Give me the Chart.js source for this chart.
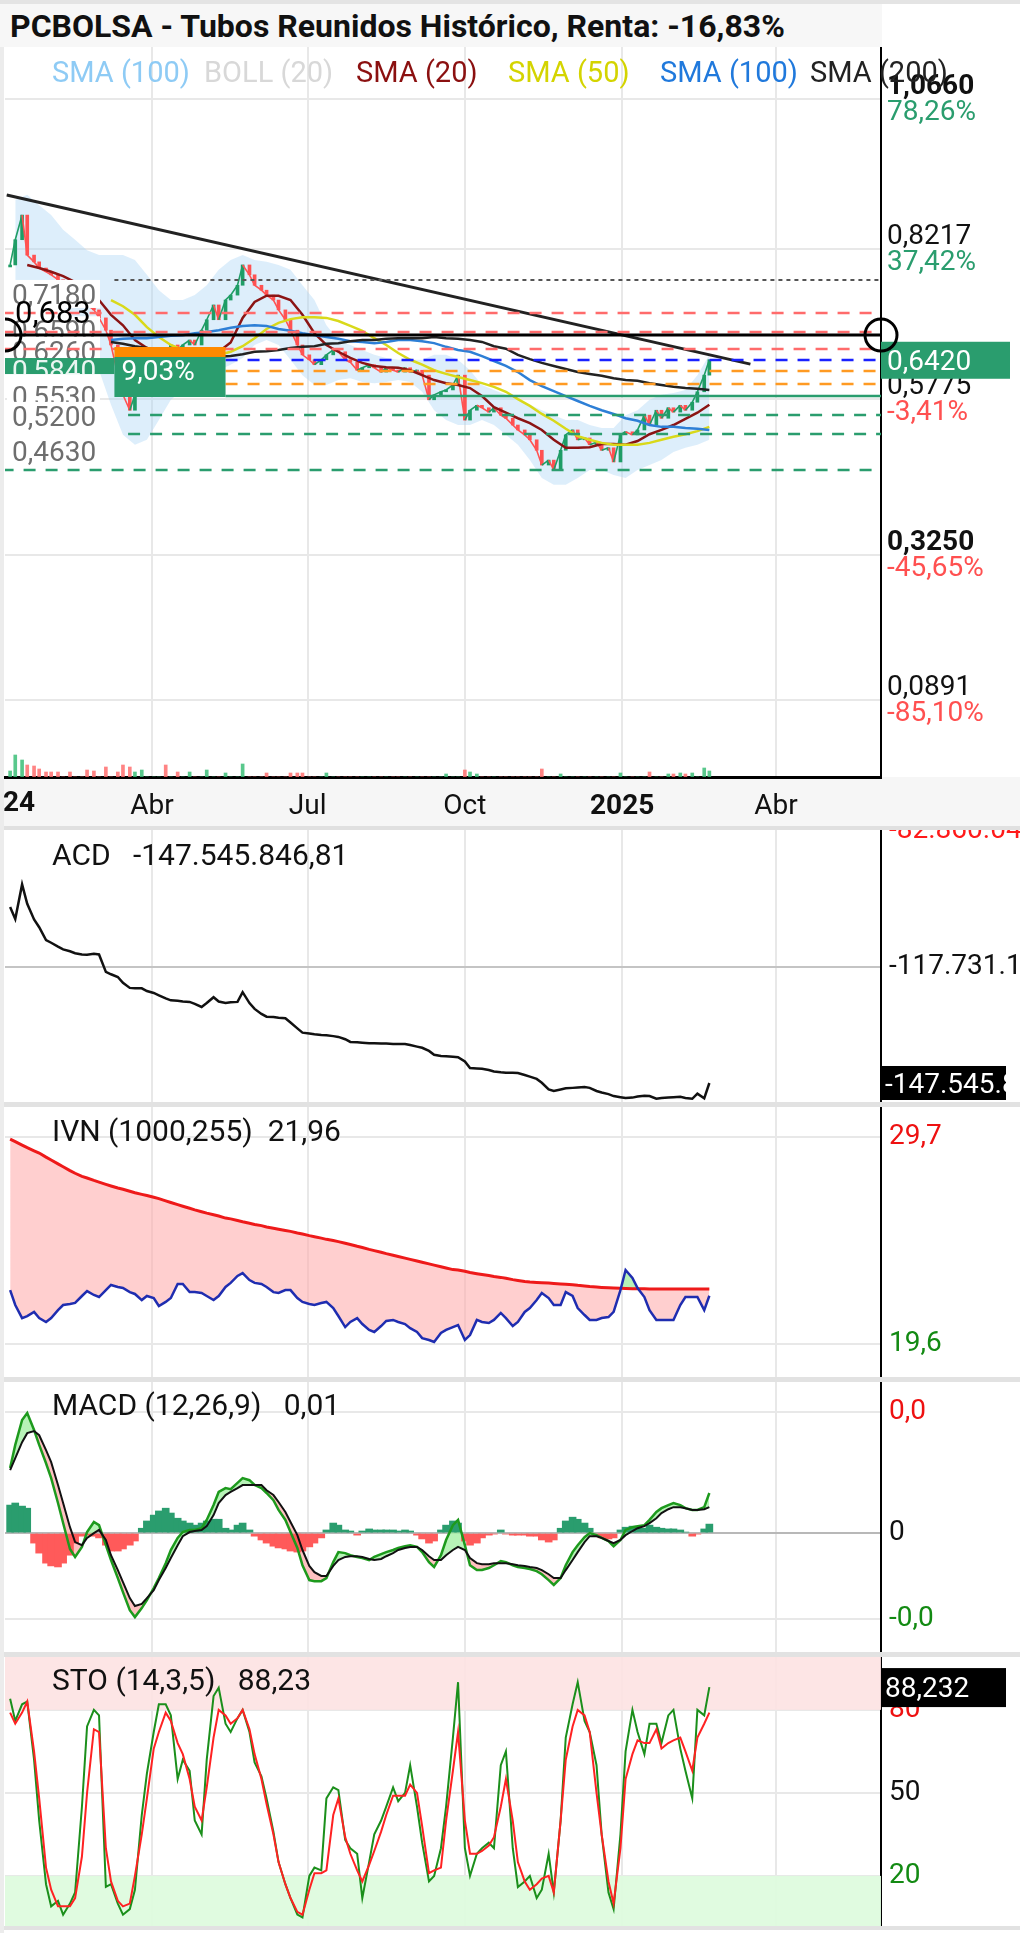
<!DOCTYPE html>
<html><head><meta charset="utf-8">
<script src="https://cdn.jsdelivr.net/npm/chart.js@4.4.1/dist/chart.umd.min.js"></script>
<style>
html,body{margin:0;padding:0;background:#fff;}
body{width:1020px;height:1933px;position:relative;overflow:hidden;font-family:Roboto,sans-serif;}
.blk{position:absolute;}
canvas{position:absolute;left:0;z-index:1;}
.t{position:absolute;font-family:Roboto;font-size:28px;line-height:28px;white-space:pre;z-index:2;}
.p{font-size:30px;line-height:30px;}
</style></head><body>
<div class="blk" style="left:0;top:0;width:1020px;height:4px;background:#e4e4e4"></div>
<div class="blk" style="left:0;top:4px;width:882px;height:43px;background:#f7f7f7"></div>
<div class="blk" style="left:0;top:47px;width:4px;height:1886px;background:#ececec"></div>
<div class="blk" style="left:4px;top:777px;width:1016px;height:49px;background:#f6f6f6"></div>
<div class="blk" style="left:4px;top:826px;width:1016px;height:4px;background:#e0e0e0"></div>
<div class="blk" style="left:4px;top:1102px;width:1016px;height:5px;background:#e2e2e2"></div>
<div class="blk" style="left:4px;top:1377px;width:1016px;height:5px;background:#e2e2e2"></div>
<div class="blk" style="left:4px;top:1652px;width:1016px;height:5px;background:#e2e2e2"></div>
<div class="blk" style="left:4px;top:1926px;width:1016px;height:4px;background:#e2e2e2"></div>

<canvas id="cMain" width="1020" height="779" style="top:47px"></canvas>
<canvas id="cAcd" width="1020" height="272" style="top:830px"></canvas>
<canvas id="cIvn" width="1020" height="270" style="top:1107px"></canvas>
<canvas id="cMacd" width="1020" height="270" style="top:1382px"></canvas>
<canvas id="cSto" width="1020" height="269" style="top:1657px"></canvas>

<div class="t" style="left:10px;top:10px;font-size:32px;line-height:32px;font-weight:bold;color:#111">PCBOLSA - Tubos Reunidos Histórico, Renta: -16,83%</div>
<div class="t" style="left:52px;top:58px;font-size:29px;color:#8ecbf5">SMA (100)</div>
<div class="t" style="left:204px;top:58px;font-size:29px;color:#d8d8d8">BOLL (20)</div>
<div class="t" style="left:356px;top:58px;font-size:29px;color:#8b1010">SMA (20)</div>
<div class="t" style="left:508px;top:58px;font-size:29px;color:#d4d400">SMA (50)</div>
<div class="t" style="left:660px;top:58px;font-size:29px;color:#2079dc">SMA (100)</div>
<div class="t" style="left:810px;top:58px;font-size:29px;color:#222">SMA (200)</div>
<div class="t p" style="left:52px;top:840px;color:#111">ACD   -147.545.846,81</div>
<div class="t p" style="left:52px;top:1116px;color:#111">IVN (1000,255)  21,96</div>
<div class="t p" style="left:52px;top:1390px;color:#111">MACD (12,26,9)   0,01</div>
<div class="t p" style="left:52px;top:1665px;color:#111">STO (14,3,5)   88,23</div>

<script>
// ---------------- DATA ----------------
const dates = ['2024-01-09','2024-01-12','2024-01-16','2024-01-19','2024-01-23','2024-01-26','2024-01-30','2024-02-02','2024-02-06','2024-02-09',
'2024-02-13','2024-02-16','2024-02-20','2024-02-23','2024-02-27','2024-03-01','2024-03-05','2024-03-08','2024-03-12','2024-03-15',
'2024-03-19','2024-03-22','2024-03-26','2024-03-29','2024-04-02','2024-04-05','2024-04-09','2024-04-12','2024-04-16','2024-04-19',
'2024-04-23','2024-04-26','2024-04-30','2024-05-03','2024-05-07','2024-05-10','2024-05-14','2024-05-17','2024-05-21','2024-05-24',
'2024-05-28','2024-05-31','2024-06-04','2024-06-07','2024-06-11','2024-06-14','2024-06-18','2024-06-21','2024-06-25','2024-06-28',
'2024-07-02','2024-07-05','2024-07-09','2024-07-12','2024-07-16','2024-07-19','2024-07-23','2024-07-26','2024-07-30','2024-08-02',
'2024-08-06','2024-08-09','2024-08-13','2024-08-16','2024-08-20','2024-08-23','2024-08-27','2024-08-30','2024-09-03','2024-09-06',
'2024-09-10','2024-09-13','2024-09-17','2024-09-20','2024-09-24','2024-09-27','2024-10-01','2024-10-04','2024-10-08','2024-10-11',
'2024-10-15','2024-10-18','2024-10-22','2024-10-25','2024-10-29','2024-11-01','2024-11-05','2024-11-08','2024-11-12','2024-11-15',
'2024-11-19','2024-11-22','2024-11-26','2024-11-29','2024-12-03','2024-12-06','2024-12-10','2024-12-13','2024-12-17','2024-12-20',
'2024-12-24','2024-12-27','2024-12-31','2025-01-03','2025-01-07','2025-01-10','2025-01-14','2025-01-17','2025-01-21','2025-01-24',
'2025-01-28','2025-01-31','2025-02-04','2025-02-07','2025-02-11','2025-02-14','2025-02-18','2025-02-21'];

const closes = [0.796,0.837,0.877,0.812,0.801,0.791,0.785,0.780,0.772,0.763,
0.755,0.747,0.739,0.731,0.723,0.710,0.690,0.666,0.617,0.585,
0.560,0.585,0.609,0.634,0.650,0.658,0.650,0.666,0.658,0.666,
0.674,0.666,0.690,0.707,0.731,0.707,0.739,0.747,0.763,0.796,
0.780,0.763,0.755,0.747,0.739,0.723,0.707,0.690,0.666,0.650,
0.642,0.634,0.642,0.650,0.658,0.655,0.642,0.638,0.625,0.629,
0.634,0.629,0.622,0.629,0.625,0.622,0.629,0.622,0.625,0.617,
0.577,0.585,0.590,0.593,0.601,0.617,0.544,0.560,0.568,0.564,
0.557,0.564,0.552,0.547,0.536,0.528,0.520,0.512,0.495,0.471,
0.479,0.463,0.495,0.520,0.528,0.512,0.515,0.504,0.508,0.495,
0.499,0.476,0.520,0.525,0.520,0.528,0.552,0.536,0.560,0.547,
0.564,0.557,0.568,0.560,0.573,0.590,0.617,0.642];

const volumes = [270,990,765,540,495,360,225,225,225,0,
225,0,0,315,270,0,450,0,225,540,
450,225,315,0,0,0,540,0,225,0,
225,0,0,315,0,0,180,0,0,585,
0,0,0,180,0,0,0,180,180,180,
0,0,0,180,0,0,0,0,0,0,
0,0,0,0,0,0,0,0,0,0,
0,0,0,135,0,0,315,225,135,0,
0,0,0,0,0,0,0,0,0,360,
0,0,135,0,0,0,0,0,0,0,
0,0,180,0,0,0,0,225,0,0,
135,135,180,135,180,0,405,270];

// weekly indicator values (one per Friday of the dates above)
const sma20 = [null,0.796,0.791,0.785,0.778,0.768,0.755,0.739,0.715,0.698,
0.674,0.661,0.655,0.655,0.658,0.660,0.655,0.655,0.670,0.710,
0.736,0.746,0.746,0.739,0.715,0.685,0.666,0.655,0.645,0.637,
0.632,0.630,0.629,0.625,0.617,0.609,0.604,0.601,0.596,0.583,
0.565,0.556,0.547,0.539,0.528,0.512,0.499,0.499,0.500,0.505,
0.505,0.504,0.510,0.521,0.528,0.536,0.546,0.556,0.569];
const sma50 = [null,null,null,null,null,null,null,null,0.739,0.729,
0.715,0.695,0.679,0.666,0.658,0.651,0.648,0.650,0.655,0.664,
0.677,0.692,0.702,0.708,0.711,0.711,0.710,0.705,0.697,0.689,
0.677,0.666,0.653,0.642,0.634,0.625,0.619,0.614,0.609,0.604,
0.598,0.590,0.578,0.567,0.554,0.543,0.530,0.518,0.512,0.507,
0.504,0.504,0.504,0.507,0.512,0.517,0.521,0.526,0.533];
const sma100 = [null,null,null,null,null,null,null,null,0.674,0.676,
0.677,0.677,0.679,0.681,0.682,0.685,0.687,0.690,0.694,0.697,
0.698,0.697,0.692,0.689,0.685,0.682,0.679,0.676,0.672,0.671,
0.669,0.671,0.674,0.674,0.672,0.669,0.663,0.658,0.655,0.648,
0.640,0.632,0.622,0.609,0.599,0.591,0.583,0.575,0.567,0.560,
0.554,0.547,0.543,0.536,0.533,0.533,0.531,0.530,0.528];
const sma200 = [null,null,null,null,null,null,null,null,0.671,0.668,
0.664,0.661,0.658,0.655,0.651,0.650,0.648,0.647,0.648,0.651,
0.655,0.656,0.658,0.661,0.663,0.664,0.668,0.669,0.672,0.674,
0.674,0.676,0.677,0.677,0.677,0.679,0.677,0.676,0.674,0.671,
0.664,0.660,0.650,0.643,0.637,0.632,0.627,0.622,0.619,0.616,
0.612,0.609,0.608,0.604,0.601,0.598,0.596,0.595,0.593];
const bollUpper = [0.902,0.910,0.893,0.877,0.853,0.837,0.820,0.812,0.812,0.812,
0.804,0.780,0.755,0.739,0.739,0.747,0.763,0.788,0.804,0.812,
0.804,0.801,0.796,0.788,0.763,0.739,0.698,0.674,0.666,0.658,
0.650,0.645,0.642,0.642,0.642,0.650,0.650,0.642,0.625,0.601,
0.593,0.585,0.577,0.569,0.560,0.552,0.544,0.544,0.536,0.531,
0.531,0.552,0.560,0.577,0.585,0.588,0.593,0.617,0.650];
const bollLower = [0.772,0.763,0.755,0.739,0.731,0.707,0.674,0.625,0.569,0.520,
0.504,0.512,0.544,0.577,0.593,0.601,0.617,0.625,0.634,0.645,
0.666,0.674,0.666,0.642,0.617,0.601,0.601,0.609,0.612,0.606,
0.604,0.606,0.609,0.606,0.590,0.560,0.544,0.536,0.536,0.544,
0.536,0.520,0.504,0.479,0.450,0.439,0.439,0.450,0.463,0.463,
0.455,0.450,0.463,0.471,0.479,0.492,0.499,0.504,0.512];

const trendDates = ['2024-01-07','2025-03-17'];
const trendPrices = [0.9096,0.6349];

const acd = [-102.3,-105.4,-96.5,-101.5,-105.5,-107.5,-110.8,-111.5,-112.5,-113.2,
-113.7,-114.2,-114.5,-114.6,-114.3,-114.5,-119.0,-119.6,-120.3,-121.8,
-123.1,-123.2,-123.2,-123.9,-124.4,-125.0,-125.8,-126.3,-126.4,-126.6,
-126.7,-127.2,-128.0,-127.0,-125.5,-126.6,-127.0,-126.8,-126.7,-124.2,
-127.0,-128.5,-129.8,-130.5,-130.6,-130.8,-130.9,-132.0,-133.5,-134.6,
-134.8,-135.0,-135.2,-135.3,-135.5,-135.7,-136.3,-137.0,-137.1,-137.2,
-137.3,-137.3,-137.4,-137.4,-137.5,-137.5,-137.5,-137.8,-138.2,-138.5,
-139.3,-140.3,-140.6,-140.7,-140.8,-140.9,-142.0,-143.7,-143.8,-143.9,
-144.2,-144.6,-144.8,-144.9,-144.9,-145.0,-145.5,-145.9,-146.5,-147.5,
-149.2,-149.6,-149.2,-148.9,-148.8,-148.7,-148.6,-148.8,-149.6,-150.0,
-150.4,-150.9,-151.2,-151.4,-151.3,-151.0,-150.8,-150.9,-151.6,-151.4,
-151.3,-151.2,-151.1,-151.4,-151.6,-150.3,-151.5,-147.546];

const ivn = [22.24,21.51,20.87,20.97,21.17,20.87,20.68,20.87,21.26,21.51,
21.56,21.61,21.95,22.19,22.00,21.90,22.24,22.49,22.39,22.34,
22.14,22.05,21.75,21.95,21.85,21.46,21.66,21.85,22.54,22.54,
22.14,22.14,22.10,21.95,21.75,21.95,22.39,22.59,22.93,23.07,
22.73,22.59,22.54,22.39,22.14,22.10,22.24,22.24,21.85,21.66,
21.56,21.51,21.61,21.66,21.36,20.97,20.43,20.68,20.87,20.58,
20.29,20.19,20.48,20.73,20.78,20.68,20.58,20.38,20.19,19.89,
19.80,19.70,20.14,20.29,20.43,20.53,19.80,20.04,20.78,20.68,
20.63,20.78,21.12,20.87,20.48,20.68,21.17,21.36,21.75,22.10,
21.85,21.51,21.51,22.14,21.95,21.36,21.02,20.78,20.78,20.87,
20.92,21.17,22.24,23.22,22.83,22.34,21.90,21.26,20.78,20.78,
20.78,20.78,21.51,21.90,21.90,21.90,21.26,21.96];
const ivnAvg = [29.62,29.50,29.33,29.20,29.05,28.94,28.74,28.60,28.41,28.27,
28.08,27.95,27.80,27.72,27.60,27.52,27.41,27.33,27.23,27.17,
27.07,27.00,26.92,26.86,26.78,26.71,26.60,26.52,26.42,26.34,
26.24,26.16,26.07,26.00,25.92,25.86,25.76,25.72,25.64,25.58,
25.51,25.45,25.39,25.32,25.26,25.21,25.15,25.11,25.03,24.98,
24.90,24.85,24.78,24.72,24.66,24.61,24.53,24.47,24.38,24.32,
24.23,24.17,24.09,24.02,23.94,23.88,23.80,23.74,23.66,23.60,
23.52,23.46,23.38,23.32,23.24,23.22,23.16,23.10,23.04,23.00,
22.95,22.90,22.86,22.82,22.75,22.71,22.66,22.63,22.61,22.60,
22.58,22.56,22.54,22.52,22.50,22.47,22.44,22.41,22.39,22.37,
22.35,22.34,22.33,22.32,22.31,22.30,22.30,22.29,22.29,22.29,
22.29,22.29,22.29,22.29,22.29,22.29,22.29,22.29];

const macd = [0.0188,0.0255,0.0327,0.0347,0.0298,0.0255,0.0202,0.0159,0.0087,0.0029,
-0.0046,-0.0069,-0.0040,0.0003,0.0032,0.0023,-0.0035,-0.0078,-0.0130,-0.0171,
-0.0223,-0.0243,-0.0217,-0.0194,-0.0159,-0.0130,-0.0087,-0.0049,-0.0014,0.0003,
0.0009,0.0009,0.0014,0.0038,0.0081,0.0119,0.0130,0.0127,0.0145,0.0159,
0.0153,0.0139,0.0130,0.0116,0.0095,0.0067,0.0038,0.0003,-0.0043,-0.0093,
-0.0136,-0.0139,-0.0139,-0.0130,-0.0084,-0.0055,-0.0058,-0.0064,-0.0069,-0.0072,
-0.0078,-0.0069,-0.0061,-0.0055,-0.0049,-0.0043,-0.0038,-0.0035,-0.0040,-0.0055,
-0.0084,-0.0098,-0.0064,-0.0020,0.0023,0.0038,-0.0035,-0.0093,-0.0107,-0.0107,
-0.0101,-0.0093,-0.0081,-0.0084,-0.0093,-0.0098,-0.0101,-0.0104,-0.0110,-0.0119,
-0.0136,-0.0150,-0.0130,-0.0093,-0.0055,-0.0035,-0.0012,0.0000,-0.0006,-0.0014,
-0.0023,-0.0038,-0.0020,0.0009,0.0017,0.0020,0.0023,0.0038,0.0061,0.0072,
0.0081,0.0087,0.0081,0.0072,0.0067,0.0067,0.0075,0.0116];
const macdSignal = [0.0182,0.0217,0.0263,0.0289,0.0295,0.0283,0.0240,0.0205,0.0139,0.0087,
0.0017,-0.0026,-0.0035,-0.0014,0.0000,0.0009,-0.0020,-0.0064,-0.0107,-0.0142,
-0.0188,-0.0211,-0.0205,-0.0188,-0.0165,-0.0136,-0.0101,-0.0072,-0.0035,-0.0009,
0.0003,0.0006,0.0009,0.0020,0.0052,0.0087,0.0110,0.0119,0.0130,0.0139,
0.0139,0.0139,0.0139,0.0124,0.0110,0.0090,0.0061,0.0032,-0.0006,-0.0049,
-0.0095,-0.0113,-0.0124,-0.0124,-0.0095,-0.0078,-0.0069,-0.0067,-0.0067,-0.0069,
-0.0075,-0.0078,-0.0075,-0.0067,-0.0058,-0.0049,-0.0043,-0.0040,-0.0040,-0.0049,
-0.0067,-0.0078,-0.0078,-0.0064,-0.0049,-0.0040,-0.0049,-0.0072,-0.0087,-0.0090,
-0.0090,-0.0087,-0.0087,-0.0087,-0.0090,-0.0093,-0.0095,-0.0098,-0.0101,-0.0107,
-0.0119,-0.0130,-0.0130,-0.0107,-0.0078,-0.0055,-0.0026,-0.0009,-0.0009,-0.0014,
-0.0023,-0.0029,-0.0020,-0.0006,0.0006,0.0014,0.0020,0.0029,0.0043,0.0058,
0.0069,0.0075,0.0075,0.0072,0.0067,0.0067,0.0069,0.0075];
const macdHist = [0.0081,0.0087,0.0078,0.0072,-0.0029,-0.0058,-0.0087,-0.0095,-0.0098,-0.0087,
-0.0064,-0.0029,-0.0009,-0.0006,-0.0009,-0.0014,-0.0035,-0.0052,-0.0052,-0.0046,
-0.0035,-0.0023,0.0014,0.0035,0.0052,0.0064,0.0072,0.0058,0.0043,0.0035,
0.0029,0.0023,0.0029,0.0035,0.0040,0.0040,0.0014,0.0009,0.0023,0.0029,
0.0009,-0.0009,-0.0020,-0.0029,-0.0038,-0.0043,-0.0046,-0.0052,-0.0055,-0.0052,
-0.0040,-0.0029,-0.0014,0.0009,0.0029,0.0023,0.0009,0.0006,-0.0006,0.0006,
0.0012,0.0009,0.0009,0.0009,0.0009,0.0006,0.0009,0.0006,-0.0006,-0.0017,
-0.0029,-0.0023,0.0009,0.0023,0.0035,0.0029,-0.0023,-0.0035,-0.0029,-0.0014,
-0.0006,-0.0003,0.0009,-0.0003,-0.0006,-0.0006,-0.0006,-0.0009,-0.0009,-0.0020,
-0.0026,-0.0020,0.0014,0.0035,0.0046,0.0040,0.0029,0.0014,-0.0009,-0.0014,
-0.0017,-0.0014,0.0009,0.0017,0.0020,0.0017,0.0014,0.0023,0.0017,0.0014,
0.0012,0.0012,0.0009,0.0003,-0.0009,-0.0003,0.0012,0.0026];

const stoK = [84,76,82,83,62,40,17,9,11,6,
10,14,45,74,80,78,16,17,10,6,
8,15,42,57,72,82,82,78,55,62,
58,40,35,62,85,88,75,72,77,80,
72,61,56,48,36,25,17,12,6,5,
20,23,22,48,52,51,33,30,28,12,
25,35,40,45,52,47,50,60,45,32,
18,20,30,45,70,90,30,20,28,30,
32,30,60,65,30,16,18,20,12,15,
28,14,40,70,82,90,76,72,60,35,
14,8,35,65,80,72,64,75,75,68,
78,80,66,58,48,80,78,88.232];
const stoD = [79,75,79,83,65,48,23,15,9,9,
9,12,27,50,73,72,30,18,11,9,
10,20,35,48,66,72,79,76,68,64,
55,45,40,52,70,80,78,75,77,80,
73,64,55,46,35,25,17,12,7,6,
15,21,21,22,42,48,34,28,22,18,
24,29,36,42,49,49,49,53,50,38,
21,22,23,40,58,72,40,28,28,29,
31,34,45,55,40,25,18,15,17,19,
20,14,40,62,74,80,78,72,50,35,
18,10,30,55,64,69,68,68,73,66,
68,69,70,65,58,70,75,79];

// axis ticks
const xTickDates = ['2024-04-01','2024-07-01','2024-10-01','2025-01-01','2025-04-01'];
const xTickLabels = ['Abr','Jul','Oct','2025','Abr'];
const xYearStart = '2024-01-01', xYearLabel = '24';
const priceTicks = [1.066,0.8217,0.5775,0.325,0.0891];
const priceTickLabels = ['1,0660','0,8217','0,5775','0,3250','0,0891'];
const priceTickPct = ['78,26%','37,42%','-3,41%','-45,65%','-85,10%'];
const acdTicks = [-82.86,-117.731];
const acdTickLabels = ['-82.860.046','-117.731.123'];
const acdLastLabel = '-147.545.846,81';
const ivnTicks = [29.7,19.6];
const ivnTickLabels = ['29,7','19,6'];
const macdTicks = [0.035,0,-0.0249];
const macdTickLabels = ['0,0','0','-0,0'];
const stoTicks = [80,50,20];
const stoTickLabels = ['80','50','20'];
const stoZones = [80,20];

// price levels (horizontal lines)
const levelPrices = [0.7715,0.7179,0.6871,0.6595,0.6416,0.6237,0.6026,0.5831,0.5523,0.5214,0.4629,0.6822];
const levelFrom = ['2024-03-10','2024-01-04','2024-01-04','2024-01-04','2024-05-14','2024-05-14','2024-05-14','2024-05-14','2024-03-18','2024-03-18','2024-01-04','2024-01-04'];
const leftLabelPrices = [0.718,0.659,0.626,0.553,0.520,0.463];
const leftLabelTexts = ['0,7180','0,6590','0,6260','0,5530','0,5200','0,4630'];
const positionDates = ['2024-03-10','2024-05-14'];
const positionOrange = [0.6627,0.6465];
const positionGreen = [0.6465,0.5815];
const positionLabel = '9,03%';
const entryTagPrices = [0.6448,0.6188];
const entryTagLabel = '0,5840';
const markerPrice = 0.6822, markerLabel = '0,683';

// ---------------- STYLES ----------------
const levelColor = ['#555','#ff6b6b','#ff6b6b','#ff6b6b','#1a22ff','#ff9a22','#ff9a22','#2a9d6e','#2a9d6e','#2a9d6e','#2a9d6e','#000'];
const levelDash = [[4,4],[12,10],[12,10],[12,10],[12,10],[12,10],[12,10],[],[12,10],[12,10],[12,10],[]];
const levelWidth = [2,2.5,2.5,2.5,2.5,2.5,2.5,2.5,2.5,2.5,2.5,3];
const priceTickBold = [true,false,false,true,false];
const UP = '#1f9d66', DOWN = '#ff5252', GREEN = '#2a9d6e';
const FAM = 'Roboto';
const F = (s, w) => (w || 'normal') + ' ' + s + 'px ' + FAM;

// ---------------- HELPERS ----------------
const day = s => (Date.UTC(+s.slice(0,4), +s.slice(5,7)-1, +s.slice(8,10)) - Date.UTC(2024,0,1)) / 864e5;
const weekDates = dates.filter((_, i) => i % 2 === 1);
const toXY = (ds, vals) => ds.map((d, i) => ({x: day(d), y: vals[i]}));
const X_MIN = 5, X_MAX = 517.4, AXIS_W = 139;
const zeroPad = s => { s.paddingTop = 0; s.paddingBottom = 0; s.paddingLeft = 0; s.paddingRight = 0; };

function xScale(show) {
  return {
    type: 'linear', min: X_MIN, max: X_MAX, offset: false,
    afterBuildTicks: s => { s.ticks = xTickDates.map(d => ({value: day(d)})); },
    grid: {color: '#e8e8e8', lineWidth: 2, drawTicks: false, offset: false},
    border: {display: show, color: '#000', width: 3},
    ticks: {display: show, padding: 13, autoSkip: false, maxRotation: 0, color: '#111',
      font: c => ({family: FAM, size: 28, weight: (c.tick && c.tick.value === day('2025-01-01')) ? 'bold' : 'normal'}),
      callback: (v, i) => xTickLabels[i]},
    afterFit: s => { s.height = show ? 49 : 0; zeroPad(s); }
  };
}
function yScale(min, max, ticks, labels, colors, gridColors) {
  return {
    position: 'right', min, max,
    afterBuildTicks: s => { s.ticks = ticks.map(v => ({value: v})); },
    grid: {color: c => gridColors ? gridColors[c.index] : '#e8e8e8', lineWidth: 2, drawTicks: false},
    border: {display: true, color: '#000', width: 2},
    ticks: {display: !!labels, padding: 8, autoSkip: false, font: {family: FAM, size: 28},
      color: c => colors ? colors[c.index] : '#111',
      callback: (v, i) => labels ? labels[i] : ''},
    afterFit: s => { s.width = AXIS_W; zeroPad(s); }
  };
}
const baseOpts = () => ({
  responsive: false, animation: false, devicePixelRatio: 1, events: [],
  layout: {padding: {left: 5, right: 0, top: 0, bottom: 0}},
  plugins: {legend: {display: false}, tooltip: {enabled: false}, filler: {drawTime: 'beforeDatasetsDraw'}},
  elements: {point: {radius: 0}, line: {tension: 0}}
});

function build() {
  Chart.defaults.font.family = FAM;

  // -------- MAIN PRICE CHART --------
  const candleData = dates.map((d, i) => ({x: day(d), y: [i ? closes[i-1] : closes[i], closes[i]]}));
  const dirColors = closes.map((c, i) => (i === 0 || c >= closes[i-1]) ? UP : DOWN);
  const volColors = closes.map((c, i) => (i === 0 || c >= closes[i-1]) ? 'rgba(60,190,120,0.85)' : 'rgba(255,110,110,0.85)');

  const mainOverlay = {
    id: 'mainOverlay',
    afterDatasetsDraw(chart) {
      const {ctx, chartArea: a, scales: {x, y}} = chart;
      const L = a.left, R = a.right;
      ctx.save();
      ctx.beginPath(); ctx.rect(L, a.top, R - L, a.bottom - a.top); ctx.clip();
      ctx.textAlign = 'left'; ctx.textBaseline = 'alphabetic';
      ctx.font = F(28);
      leftLabelPrices.forEach((p, i) => {
        const yy = y.getPixelForValue(p) - 9;
        ctx.fillStyle = '#fff'; ctx.fillRect(L + 2, yy - 24, 93, 28);
        ctx.fillStyle = '#6e6e6e'; ctx.fillText(leftLabelTexts[i], L + 7, yy);
      });
      levelPrices.forEach((p, i) => {
        const yy = y.getPixelForValue(p);
        ctx.beginPath(); ctx.setLineDash(levelDash[i]); ctx.strokeStyle = levelColor[i]; ctx.lineWidth = levelWidth[i];
        ctx.moveTo(x.getPixelForValue(day(levelFrom[i])), yy); ctx.lineTo(R, yy); ctx.stroke();
      });
      ctx.setLineDash([]);
      const bx0 = x.getPixelForValue(day(positionDates[0])), bx1 = x.getPixelForValue(day(positionDates[1]));
      const o0 = y.getPixelForValue(positionOrange[0]), o1 = y.getPixelForValue(positionOrange[1]);
      ctx.fillStyle = '#ff8a00'; ctx.fillRect(bx0, o0, bx1 - bx0, o1 - o0);
      const g0 = y.getPixelForValue(positionGreen[0]), g1 = y.getPixelForValue(positionGreen[1]);
      ctx.fillStyle = GREEN; ctx.fillRect(bx0, g0, bx1 - bx0, g1 - g0);
      ctx.fillStyle = '#fff'; ctx.font = F(28); ctx.fillText(positionLabel, bx0 + 7, g1 - 17);
      const e0 = y.getPixelForValue(entryTagPrices[0]), e1 = y.getPixelForValue(entryTagPrices[1]);
      ctx.fillStyle = GREEN; ctx.fillRect(L, e0, bx0 - L, e1 - e0);
      ctx.save(); ctx.beginPath(); ctx.rect(L, e0, bx0 - L, e1 - e0); ctx.clip();
      ctx.fillStyle = 'rgba(255,255,255,0.9)'; ctx.fillText(entryTagLabel, L + 7, e0 + 22); ctx.restore();
      const my = y.getPixelForValue(markerPrice);
      ctx.fillStyle = '#000'; ctx.font = F(31); ctx.fillText(markerLabel, L + 10, my - 12);
      ctx.beginPath(); ctx.lineWidth = 3; ctx.strokeStyle = '#000'; ctx.arc(L, my, 16, 0, Math.PI * 2); ctx.stroke();
      ctx.restore();
    },
    afterDraw(chart) {
      const {ctx, chartArea: a, scales: {x, y}} = chart;
      const R = a.right;
      ctx.save();
      ctx.textAlign = 'left'; ctx.textBaseline = 'alphabetic';
      priceTicks.forEach((v, i) => {
        const yy = y.getPixelForValue(v);
        ctx.font = F(28, priceTickBold[i] ? 'bold' : 'normal'); ctx.fillStyle = '#111';
        ctx.fillText(priceTickLabels[i], R + 6, yy - 5);
        ctx.font = F(28); ctx.fillStyle = priceTickPct[i][0] === '-' ? '#ff5050' : GREEN;
        ctx.fillText(priceTickPct[i], R + 6, yy + 21);
      });
      const last = closes[closes.length - 1], ly = y.getPixelForValue(last);
      ctx.fillStyle = GREEN; ctx.fillRect(R, ly - 18, 129, 37);
      ctx.fillStyle = '#fff'; ctx.font = F(28); ctx.fillText(last.toFixed(4).replace('.', ','), R + 6, ly + 10);
      const my = y.getPixelForValue(markerPrice);
      ctx.beginPath(); ctx.lineWidth = 3; ctx.strokeStyle = '#000'; ctx.arc(R, my, 16, 0, Math.PI * 2); ctx.stroke();
      ctx.font = F(28, 'bold'); ctx.fillStyle = '#111'; ctx.textBaseline = 'top';
      ctx.fillText(xYearLabel, Math.max(a.left - 2, x.getPixelForValue(day(xYearStart)) - 17), x.top + 13);
      ctx.restore();
    }
  };

  const mo = baseOpts();
  mo.scales = {
    x: xScale(true),
    y: yScale(-0.0357, 1.150, priceTicks, null, null, null),
    yv: {display: false, min: 0, max: 32850}
  };
  new Chart(document.getElementById('cMain'), {
    type: 'line',
    data: {datasets: [
      {type: 'line', data: toXY(weekDates, bollUpper), borderColor: 'rgba(0,0,0,0)', borderWidth: 0, pointRadius: 0, order: 10},
      {type: 'line', data: toXY(weekDates, bollLower), borderColor: 'rgba(0,0,0,0)', borderWidth: 0, pointRadius: 0, fill: 0, backgroundColor: 'rgba(170,212,244,0.4)', order: 9},
      {type: 'bar', yAxisID: 'yv', data: toXY(dates, volumes), backgroundColor: volColors, barThickness: 3, grouped: false, order: 8},
      {type: 'bar', data: candleData, backgroundColor: dirColors, barThickness: 3, minBarLength: 2, grouped: false, order: 7},
      {type: 'line', data: toXY(dates, closes), borderWidth: 1.6, pointRadius: 0, borderColor: UP,
        segment: {borderColor: c => c.p1.parsed.y >= c.p0.parsed.y ? UP : DOWN}, order: 6},
      {type: 'line', data: toXY(weekDates, sma20), borderColor: '#8b1414', borderWidth: 2.5, pointRadius: 0, order: 5},
      {type: 'line', data: toXY(weekDates, sma50), borderColor: '#d9d91a', borderWidth: 2.5, pointRadius: 0, order: 4},
      {type: 'line', data: toXY(weekDates, sma100), borderColor: '#2d7fd6', borderWidth: 2.5, pointRadius: 0, order: 3},
      {type: 'line', data: toXY(weekDates, sma200), borderColor: '#222', borderWidth: 2.5, pointRadius: 0, order: 2},
      {type: 'line', data: toXY(trendDates, trendPrices), borderColor: '#222', borderWidth: 3, pointRadius: 0, order: 1}
    ]},
    options: mo,
    plugins: [mainOverlay]
  });

  // -------- ACD --------
  const ao = baseOpts();
  ao.scales = {x: xScale(false), y: yScale(-152.43, -82.52, acdTicks, acdTickLabels, ['#ff1a1a', '#111'], ['rgba(0,0,0,0)', '#c4c4c4'])};
  const acdBox = {
    id: 'acdBox',
    afterDraw(chart) {
      const {ctx, chartArea: a, scales: {y}} = chart;
      const yy = y.getPixelForValue(acd[acd.length - 1]);
      ctx.save();
      ctx.fillStyle = '#000'; ctx.fillRect(a.right + 1, yy - 17, 124, 34);
      ctx.beginPath(); ctx.rect(a.right + 1, yy - 17, 124, 34); ctx.clip();
      ctx.fillStyle = '#fff'; ctx.font = F(28); ctx.textBaseline = 'alphabetic'; ctx.fillText(acdLastLabel, a.right + 4, yy + 10);
      ctx.restore();
    }
  };
  new Chart(document.getElementById('cAcd'), {
    type: 'line',
    data: {datasets: [{data: toXY(dates, acd), borderColor: '#111', borderWidth: 2.5, pointRadius: 0}]},
    options: ao, plugins: [acdBox]
  });

  // -------- IVN --------
  const io = baseOpts();
  io.scales = {x: xScale(false), y: yScale(17.99, 31.19, ivnTicks, ivnTickLabels, ['#ee1111', '#138a13'], null)};
  new Chart(document.getElementById('cIvn'), {
    type: 'line',
    data: {datasets: [
      {data: toXY(dates, ivnAvg), borderColor: '#ee1a1a', borderWidth: 3, pointRadius: 0, order: 1},
      {data: toXY(dates, ivn), borderColor: '#1f2db0', borderWidth: 2.5, pointRadius: 0, order: 0,
        fill: {target: 0, above: 'rgba(170,240,170,0.85)', below: 'rgba(255,168,168,0.55)'}}
    ]},
    options: io
  });

  // -------- MACD --------
  const mco = baseOpts();
  mco.scales = {x: xScale(false), y: yScale(-0.0344, 0.0437, macdTicks, macdTickLabels, ['#ee1111', '#111', '#138a13'], ['#e8e8e8', '#b8b8b8', '#e8e8e8'])};
  new Chart(document.getElementById('cMacd'), {
    type: 'line',
    data: {datasets: [
      {type: 'line', data: toXY(dates, macd), borderColor: '#1d9a1d', borderWidth: 2.5, pointRadius: 0, order: 1,
        fill: {target: 1, above: 'rgba(165,240,165,0.8)', below: 'rgba(255,178,178,0.8)'}},
      {type: 'line', data: toXY(dates, macdSignal), borderColor: '#111', borderWidth: 2, pointRadius: 0, order: 0},
      {type: 'bar', data: toXY(dates, macdHist), backgroundColor: macdHist.map(v => v >= 0 ? GREEN : '#ff5a5a'), barThickness: 7, grouped: false, order: 2}
    ]},
    options: mco
  });

  // -------- STO --------
  const so = baseOpts();
  so.scales = {x: xScale(false), y: yScale(1.9, 99.1, stoTicks, stoTickLabels, ['#ee1111', '#111', '#138a13'], null)};
  const stoPlug = {
    id: 'stoPlug',
    beforeDatasetsDraw(chart) {
      const {ctx, chartArea: a, scales: {y}} = chart;
      ctx.save();
      const hi = y.getPixelForValue(stoZones[0]), lo = y.getPixelForValue(stoZones[1]);
      ctx.fillStyle = 'rgba(253,226,226,0.9)'; ctx.fillRect(a.left, a.top, a.right - a.left, hi - a.top);
      ctx.fillStyle = 'rgba(222,251,222,0.95)'; ctx.fillRect(a.left, lo, a.right - a.left, a.bottom - lo);
      ctx.restore();
    },
    afterDraw(chart) {
      const {ctx, chartArea: a, scales: {y}} = chart;
      const v = stoK[stoK.length - 1], yy = y.getPixelForValue(v);
      ctx.save();
      ctx.fillStyle = '#000'; ctx.fillRect(a.right + 1, yy - 19, 124, 39);
      ctx.fillStyle = '#fff'; ctx.font = F(28); ctx.textBaseline = 'alphabetic';
      ctx.fillText(v.toFixed(3).replace('.', ','), a.right + 4, yy + 10);
      ctx.restore();
    }
  };
  new Chart(document.getElementById('cSto'), {
    type: 'line',
    data: {datasets: [
      {data: toXY(dates, stoD), borderColor: '#ff2222', borderWidth: 2, pointRadius: 0, order: 0},
      {data: toXY(dates, stoK), borderColor: '#1b8f1b', borderWidth: 2, pointRadius: 0, order: 1}
    ]},
    options: so, plugins: [stoPlug]
  });
}

if (document.fonts && document.fonts.load) {
  Promise.all([document.fonts.load('28px Roboto'), document.fonts.load('bold 28px Roboto')]).then(build, build);
} else { build(); }
</script>
</body></html>
